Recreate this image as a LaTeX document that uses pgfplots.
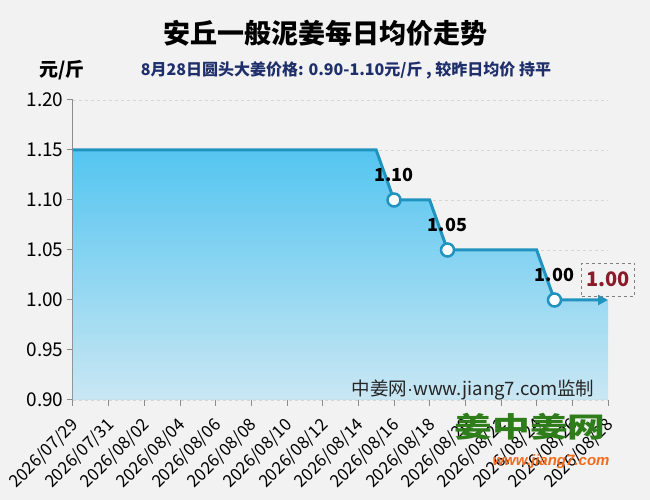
\documentclass[border=0pt]{standalone}
\usepackage{fontspec}
\setmainfont{Noto Sans CJK SC}
\newfontfamily\logofont{Liberation Sans}
\usepackage{pgfplots}
\pgfplotsset{compat=1.18}
\usetikzlibrary{arrows.meta}

\definecolor{bgc}{HTML}{F2F2F2}
\definecolor{linec}{HTML}{2093BF}
\definecolor{filltop}{HTML}{4CC3F0}
\definecolor{fillbot}{HTML}{C8E7F4}
\definecolor{subc}{HTML}{1F2F6B}
\definecolor{lastc}{HTML}{8B1A2A}
\definecolor{logog}{HTML}{2E7D1A}
\definecolor{logoo}{HTML}{F26B1D}
\definecolor{gridc}{HTML}{D6D6D6}
\definecolor{axc}{HTML}{8C8C8C}

% day index from 2026/07/29, average price (yuan per jin)
\pgfplotstableread{
day price
0  1.15
1  1.15
2  1.15
3  1.15
4  1.15
5  1.15
6  1.15
7  1.15
8  1.15
9  1.15
10 1.15
11 1.15
12 1.15
13 1.15
14 1.15
15 1.15
16 1.15
17 1.15
18 1.10
19 1.10
20 1.10
21 1.05
22 1.05
23 1.05
24 1.05
25 1.05
26 1.05
27 1.00
28 1.00
29 1.00
30 1.00
}\pricedata

\begin{document}
\begin{tikzpicture}
\fill[bgc] (0pt,0pt) rectangle (650pt,500pt);
\useasboundingbox (0pt,0pt) rectangle (650pt,500pt);

\node[font=\fontsize{27}{30}\selectfont\bfseries] at (325pt,467pt) {安丘一般泥姜每日均价走势};
\node[font=\fontsize{19}{21}\selectfont\bfseries] at (62pt,430pt) {元/斤};
\node[font=\fontsize{16}{18}\selectfont\bfseries, text=subc] at (346pt,430pt)
  {8月28日圆头大姜价格: 0.90-1.10元/斤 , 较昨日均价 持平};

\begin{axis}[
  at={(73pt,100pt)}, anchor=south west,
  width=535pt, height=300pt, scale only axis,
  xmin=0, xmax=30, ymin=0.9, ymax=1.2,
  axis x line*=bottom, axis y line*=left,
  axis line style={axc, line width=1pt, -},
  tick style={axc, line width=1pt},
  tick align=outside, major tick length=6pt,
  xtick={0,2,...,30},
  xticklabels={2026/07/29,2026/07/31,2026/08/02,2026/08/04,2026/08/06,2026/08/08,
    2026/08/10,2026/08/12,2026/08/14,2026/08/16,2026/08/18,2026/08/20,2026/08/22,
    2026/08/24,2026/08/26,2026/08/28},
  x tick label style={xshift=5pt, yshift=-14pt, rotate=45, anchor=east,
    font=\fontsize{17}{19}\selectfont},
  ytick={0.90,0.95,1.00,1.05,1.10,1.15,1.20},
  yticklabel style={font=\fontsize{19}{21}\selectfont,
    /pgf/number format/.cd, fixed, fixed zerofill, precision=2},
  /pgf/number format/assume math mode=true,
  ymajorgrids,
  major grid style={gridc, dashed, line width=0.8pt},
  clip=false,
]
\addplot[draw=none, top color=filltop, bottom color=fillbot, fill opacity=0.95]
  coordinates {(0,0.90) (0,1.15) (17,1.15) (18,1.10) (20,1.10) (21,1.05)
    (26,1.05) (27,1.00) (30,1.00) (30,0.90)} -- cycle;

\addplot[linec, line width=3pt, -{Triangle[length=10pt,width=10pt]}]
  table[x=day, y=price] {\pricedata};

\addplot[only marks, mark=*, mark size=6.5pt,
  mark options={fill=white, draw=linec, line width=2.5pt},
  point meta=y,
  nodes near coords={\pgfmathprintnumber[fixed, fixed zerofill, precision=2]{\pgfplotspointmeta}},
  every node near coord/.append style={anchor=south, yshift=14pt,
    font=\fontsize{18}{20}\selectfont\bfseries, text=black},
] coordinates {(18,1.10) (21,1.05) (27,1.00)};

\node[anchor=south, yshift=4pt, draw=gray, dashed, text=lastc,
  minimum width=53pt, minimum height=33pt, inner sep=2pt,
  font=\fontsize{20}{22}\selectfont\bfseries] at (axis cs:30,1.00) {1.00};
\end{axis}

\node[anchor=base east, font=\fontsize{18.5}{21}\selectfont, text=black!85] at (598pt,104pt)
  {中姜网{\logofont ·}www.jiang7.com监制};

\node[font=\fontsize{28}{30}\selectfont\bfseries, text=logog, xscale=1.35] at (530pt,73pt) {姜中姜网};
\node[font=\logofont\fontsize{15}{17}\selectfont\bfseries\itshape, text=logoo] at (551pt,38pt)
  {www.jiang7.com};
\end{tikzpicture}
\end{document}
